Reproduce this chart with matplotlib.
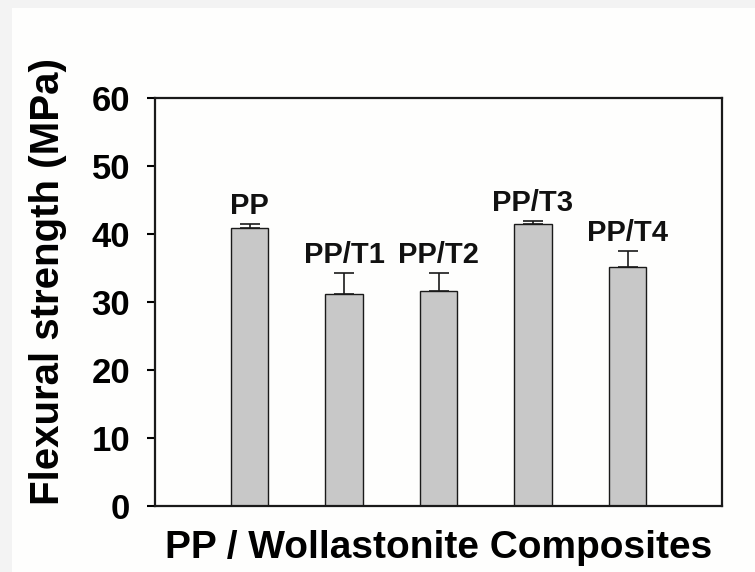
import numpy as np
import matplotlib.pyplot as plt
from matplotlib.patches import Rectangle

# data
samples = ['PP', 'PP/T1', 'PP/T2', 'PP/T3', 'PP/T4']
strength = [40.9, 31.2, 31.6, 41.4, 35.1]
err_up = [0.6, 3.0, 2.6, 0.5, 2.4]

plt.rcParams['font.family'] = ['Liberation Sans', 'DejaVu Sans']
plt.rcParams['font.weight'] = 'bold'

fig = plt.figure(figsize=(7.55, 5.72), dpi=100)
fig.patch.set_facecolor('#f3f3f3')
# faint page frame like the scanned original
fig.patches.append(Rectangle((12 / 755, 0), 1, 1 - 8 / 572, transform=fig.transFigure,
                             facecolor='#fefefd', edgecolor='none', zorder=-10))

ax = fig.add_axes([155 / 755, 1 - 506 / 572, 567 / 755, 408 / 572])
ax.set_facecolor('#fefefd')

x = np.arange(1, len(samples) + 1)
yerr = [np.zeros(len(err_up)), err_up]
ax.bar(x, strength, width=0.4, color='#c8c8c8', edgecolor='#1a1a1a', linewidth=1.0, zorder=2)
ax.errorbar(x, strength, yerr=yerr, fmt='none', ecolor='#1a1a1a', elinewidth=1.2,
            capsize=7, capthick=1.2, zorder=3)

for xi, v, e, name in zip(x, strength, err_up, samples):
    ax.annotate(name, (xi, v + e), xytext=(0, 3), textcoords='offset points',
                ha='center', va='bottom', fontsize=21, fontweight='bold', color='#111111')

ax.set_xlim(0, 6)
ax.set_ylim(0, 60)
ax.set_yticks(range(0, 61, 10))
ax.set_xticks([])
ax.tick_params(axis='y', direction='out', length=6, width=1.5, labelsize=25, pad=12)
for lab in ax.get_yticklabels():
    lab.set_fontweight('bold')
for sp in ax.spines.values():
    sp.set_linewidth(1.6)
    sp.set_color('#1a1a1a')

ax.set_ylabel('Flexural strength (MPa)', fontsize=29, fontweight='bold')
ax.yaxis.set_label_coords(-0.155, 0.55)
ax.set_xlabel('PP / Wollastonite Composites', fontsize=28, fontweight='bold')
ax.xaxis.set_label_coords(0.5, -0.06)

fig.savefig('out.png', dpi=100, facecolor=fig.get_facecolor())
